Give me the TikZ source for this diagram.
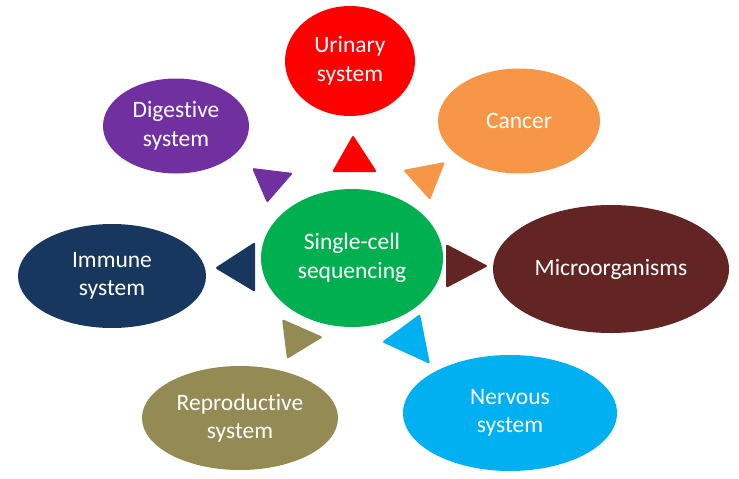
\documentclass[tikz,border=0pt]{standalone}
\usepackage{fontspec}
\setmainfont{Carlito}[Ligatures=NoCommon]
\usetikzlibrary{shapes.geometric}
\definecolor{cRed}{HTML}{FF0000}
\definecolor{cOrange}{HTML}{F79646}
\definecolor{cBrown}{HTML}{632523}
\definecolor{cBlue}{HTML}{00B0F0}
\definecolor{cOlive}{HTML}{948A54}
\definecolor{cNavy}{HTML}{17375E}
\definecolor{cPurple}{HTML}{7030A0}
\definecolor{cGreen}{HTML}{00B050}
\begin{document}
\begin{tikzpicture}[x=1pt,y=-1pt,
  blob/.style={ellipse, inner sep=0pt, text=white, align=center,
    font=\fontsize{23.5}{28.5}\selectfont},
  arrowhead/.style={rounded corners=2pt}]
\useasboundingbox (0,0) rectangle (739,479);
% centre
\node[blob, fill=cGreen, minimum width=182pt, minimum height=138pt] (sc) at (352,258) {Single-cell\\sequencing};
% satellites
\node[blob, fill=cRed, minimum width=130pt, minimum height=110pt] (uri) at (350,61) {Urinary\\system};
\node[blob, fill=cOrange, minimum width=162pt, minimum height=105pt] (can) at (519,121) {Cancer};
\node[blob, fill=cBrown, minimum width=236pt, minimum height=128pt] (mic) at (611,269) {Microorganisms};
\node[blob, fill=cBlue, minimum width=214pt, minimum height=116pt] (ner) at (510,413) {Nervous\\system};
\node[blob, fill=cOlive, minimum width=196pt, minimum height=104pt] (rep) at (240,418) {Reproductive\\system};
\node[blob, fill=cNavy, minimum width=188pt, minimum height=104pt] (imm) at (112,276) {Immune\\system};
\node[blob, fill=cPurple, minimum width=146pt, minimum height=95pt] (dig) at (176,126) {Digestive\\system};
% arrowheads pointing from the centre to each satellite
\fill[cRed, arrowhead] (353,135) -- (377,172) -- (332,172) -- cycle;
\fill[cOrange, arrowhead] (445,162) -- (430,200) -- (403,170) -- cycle;
\fill[cBrown, arrowhead] (488,266) -- (446,288) -- (446,244) -- cycle;
\fill[cBlue, arrowhead] (430,364) -- (382,342) -- (420,314) -- cycle;
\fill[cOlive, arrowhead] (287,359) -- (282,319) -- (323,337) -- cycle;
\fill[cNavy, arrowhead] (215,268) -- (255,242) -- (255,292) -- cycle;
\fill[cPurple, arrowhead] (252,168) -- (293,173) -- (267,203) -- cycle;
\end{tikzpicture}
\end{document}
